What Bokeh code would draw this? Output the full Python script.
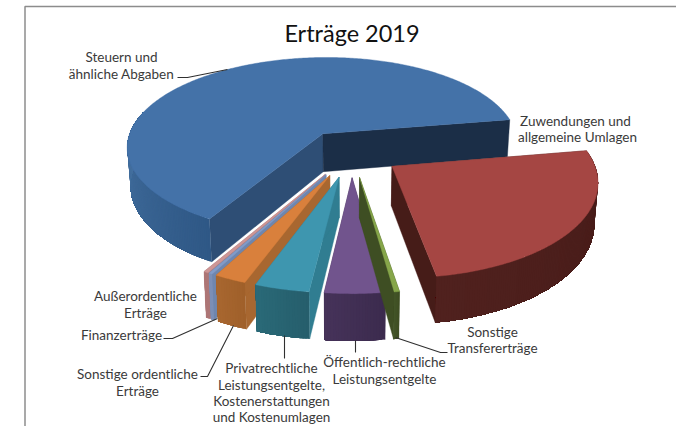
import math
from bokeh.plotting import figure
from bokeh.models import Range1d
from bokeh.core.properties import value
from bokeh.embed import file_html
from bokeh.resources import INLINE

# ---- data (share of income, percent, clockwise from the red slice's start)
categories = ["Zuwendungen und allgemeine Umlagen", "Sonstige Transfererträge",
              "Öffentlich-rechtliche Leistungsentgelte",
              "Privatrechtliche Leistungsentgelte, Kostenerstattungen und Kostenumlagen",
              "Sonstige ordentliche Erträge", "Finanzerträge", "Außerordentliche Erträge",
              "Steuern und ähnliche Abgaben"]
shares = [25.1, 0.36, 4.06, 3.7, 2.2, 0.25, 0.33, 64.0]

# ---- style per slice: top, cut wall, rim wall near end, rim wall far end
top_col = ["#A54643", "#86A64A", "#71548D", "#3E96AF", "#D9803C", "#829BC8", "#CD9696", "#4472A8"]
cut_col = ["#461C18", "#3E4E23", "#3E2D50", "#307D91", "#A86730", "#6F86AE", "#AD7878", "#2E4E75"]
rim_a = ["#461B18", "#3E4E23", "#3C2B4E", "#265E6C", "#A0602A", "#7C8FB6", "#AD7676", "#2F5886"]
rim_b = ["#50211E", "#445628", "#46335A", "#2A6A78", "#A86730", "#7C8FB6", "#AD7676", "#44709F"]
explode = [0.245, 0.26, 0.26, 0.26, 0.26, 0.26, 0.26, 0.26]
RIGHT_CUT = {7: "#1B2E47"}

# ---- projection of the tilted pie
START = -9.6
CX, CY, A, B, K, DEPTH, SHRINK = 351.0, 152.4, 199.0, 92.0, 0.14, 39.0, 0.015


def project(x, y, z=0.0):
    s = 1.0 / (1.0 - K * y)
    return CX + A * x * s * (1 - SHRINK * z), CY + B * y * s + DEPTH * s * z


def mix(c1, c2, t):
    a = [int(c1[i:i + 2], 16) for i in (1, 3, 5)]
    b = [int(c2[i:i + 2], 16) for i in (1, 3, 5)]
    return "#%02x%02x%02x" % tuple(round(p + (q - p) * t) for p, q in zip(a, b))


p = figure(width=676, height=426, output_backend="svg", toolbar_location=None,
           x_range=Range1d(0, 676), y_range=Range1d(426, 0), min_border=0)
p.styles = {"position": "absolute", "left": "0px", "top": "0px"}
p.axis.visible = False
p.grid.visible = False
p.outline_line_color = None

# frame of the screenshot
p.line([24.5, 24.5, 676], [426, 6, 6], line_color="#8c8c8c", line_width=1.5)

total = sum(shares)
angles, a0 = [], START
for v in shares:
    a1 = a0 + v * 360.0 / total
    angles.append((a0, a1))
    a0 = a1


def poly(pts, col, stroke=True):
    p.patch([q[0] for q in pts], [q[1] for q in pts], fill_color=col,
            line_color=col if stroke else None, line_width=0.4)


def draw_slice(i):
    t0, t1 = angles[i]
    bis = math.radians((t0 + t1) / 2)
    e = explode[i]
    ox, oy = e * math.cos(bis), e * math.sin(bis)
    n = max(4, int((t1 - t0) * 1.5))
    th = [math.radians(t0 + (t1 - t0) * j / n) for j in range(n + 1)]
    rim = [(ox + math.cos(t), oy + math.sin(t)) for t in th]
    # cut walls
    for idx, pt in ((0, rim[0]), (-1, rim[-1])):
        col = RIGHT_CUT[i] if (i in RIGHT_CUT and idx == -1) else cut_col[i]
        poly([project(ox, oy), project(*pt), project(*pt, 1), project(ox, oy, 1)], col)
    # rim wall: only the arc that faces the viewer; each step overlaps the rest,
    # so that no seams appear between the shades
    last = n
    if i == 7:
        last = max(j for j in range(n + 1) if math.degrees(th[j]) - t0 <= 75)
    for j in range(last):
        tm = (math.degrees(th[j]) - t0) / 60.0 if i == 7 else j / n
        col = mix(rim_a[i], rim_b[i], min(1.0, tm))
        upper = [project(*q) for q in rim[j:last + 1]]
        lower = [project(*q, 1) for q in rim[j:last + 1]]
        poly(upper + lower[::-1], col, stroke=False)
    # top face
    poly([project(ox, oy)] + [project(*q) for q in rim], top_col[i])


for i in (7, 0, 6, 5, 4, 3, 2, 1):
    draw_slice(i)

# ---- leader lines
leaders = [([177, 187, 227], [77, 77, 69]),
           ([163, 172, 217], [338, 338, 318]),
           ([200, 207, 233], [376, 376, 325]),
           ([284, 284], [335, 358]),
           ([355, 355], [340, 352]),
           ([395, 440, 447], [337, 352, 352])]
for xs, ys in leaders:
    p.line(xs, ys, line_color="#303030", line_width=1.1)

# ---- texts
label_text = ["Steuern und", "ähnliche Abgaben", "Zuwendungen und", "allgemeine Umlagen",
              "Sonstige", "Transfererträge", "Öffentlich-rechtliche", "Leistungsentgelte",
              "Privatrechtliche", "Leistungsentgelte,", "Kostenerstattungen", "und Kostenumlagen",
              "Außerordentliche", "Erträge", "Finanzerträge", "Sonstige ordentliche", "Erträge"]
label_x = [121, 121, 575, 577, 492, 492, 384, 384, 271, 271, 271, 271, 145, 145, 121, 137, 137]
label_y = [56, 73, 120, 136, 331, 347, 361, 378, 367, 384, 400, 416, 295, 312, 334, 373, 390]
p.text(label_x, label_y, text=label_text, text_font=value("Lato"), text_font_size="13.5px",
       text_align="center", text_baseline="middle", text_color="#3a3a3a")
p.text([351.5], [32], text=["Erträge 2019"], text_font=value("Lato"), text_font_size="23.5px",
       text_align="center", text_baseline="middle", text_color="#111111")

open("out.html", "w").write(file_html(p, INLINE))
